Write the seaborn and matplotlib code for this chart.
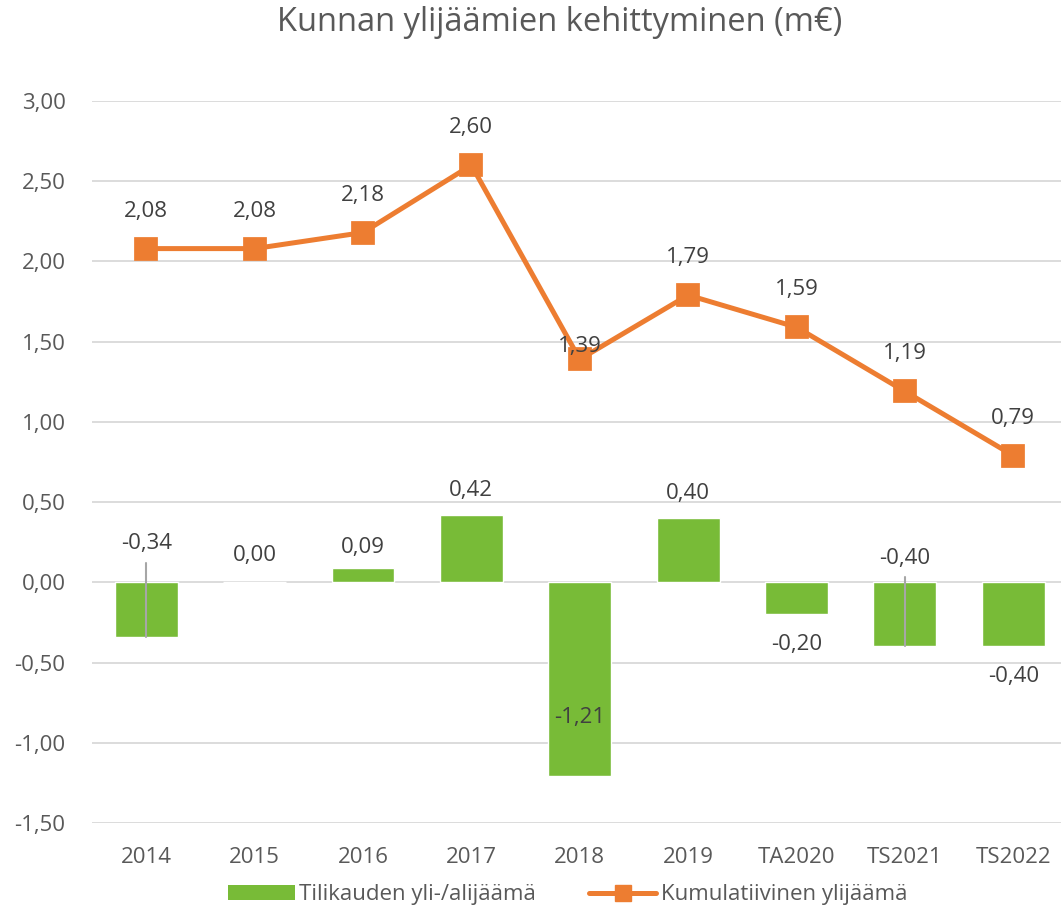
import numpy as np
import pandas as pd
import matplotlib
matplotlib.use('Agg')
import matplotlib.pyplot as plt
import seaborn as sns
from matplotlib.patches import Patch
from matplotlib.lines import Line2D

sns.set_style('white')
plt.rcParams['font.family'] = ['Open Sans', 'DejaVu Sans']

# data
vuodet = ['2014', '2015', '2016', '2017', '2018', '2019', 'TA2020', 'TS2021', 'TS2022']
tilikausi = [-0.34, 0.00, 0.09, 0.42, -1.21, 0.40, -0.20, -0.40, -0.40]
kumulatiivinen = [2.08, 2.08, 2.18, 2.60, 1.39, 1.79, 1.59, 1.19, 0.79]

green = '#78BB37'
orange = '#ED7D31'
txt = '#595959'
lbl = '#404040'

df = pd.DataFrame({'vuosi': vuodet, 'tilikausi': tilikausi, 'kumul': kumulatiivinen})

fig = plt.figure(figsize=(10.61, 9.14), dpi=100)
ax = fig.add_axes([0.0867, 0.0996, 0.9133, 0.7899])

sns.barplot(data=df, x='vuosi', y='tilikausi', color=green, width=0.58,
            saturation=1, ax=ax, zorder=2)
sns.pointplot(data=df, x='vuosi', y='kumul', color=orange, markers='s',
              linestyles='-', errorbar=None, markersize=15, linewidth=3.6,
              ax=ax, zorder=4)

ax.set_ylim(-1.5, 3.0)
ax.set_xlim(-0.5, 8.44)
ax.set_yticks(np.arange(-1.5, 3.01, 0.5))
ax.set_yticklabels([f'{v:.2f}'.replace('.', ',') for v in np.arange(-1.5, 3.01, 0.5)])
ax.yaxis.grid(True, color='#D9D9D9', linewidth=1.3, zorder=0)
ax.set_axisbelow(True)
for s in ax.spines.values():
    s.set_visible(False)
ax.tick_params(axis='both', length=0, labelsize=16, labelcolor=txt)
ax.tick_params(axis='x', pad=17)
ax.tick_params(axis='y', pad=19)
ax.set_xlabel('')
ax.set_ylabel('')

fmt = lambda v: f'{v:.2f}'.replace('.', ',')

# kumulatiivisen viivan arvot
for i, v in enumerate(kumulatiivinen):
    dy = 9 if i == 4 else 27
    ax.annotate(fmt(v), (i, v), xytext=(0, dy), textcoords='offset points',
                ha='center', va='center', fontsize=16, color=lbl, zorder=10)

# pylväiden arvot (osa siirretty kuten alkuperäisessä)
bar_off = {0: 0.58, 1: 0.17, 2: 0.13, 3: 0.155, 4: 0.37, 5: 0.155, 6: -0.19, 7: 0.55, 8: -0.19}
for i, v in enumerate(tilikausi):
    y = v + bar_off[i]
    ax.text(i, y, fmt(v), ha='center', va='center', fontsize=16, color=lbl, zorder=10)
    if i in (0, 7):
        ax.plot([i, i], [y - 0.12, v], color='#A6A6A6', linewidth=1.5, zorder=3)

fig.suptitle('Kunnan ylijäämien kehittyminen (m€)', x=0.527, y=0.993,
             fontsize=23.5, color=txt)

handles = [Patch(facecolor=green, edgecolor='none'),
           Line2D([0], [0], color=orange, linewidth=3.6, marker='s', markersize=11)]
fig.legend(handles, ['Tilikauden yli-/alijäämä', 'Kumulatiivinen ylijäämä'],
           loc='center', bbox_to_anchor=(0.535, 0.021), ncol=2, frameon=False,
           fontsize=16, labelcolor=txt, handlelength=3.0, handletextpad=0.2,
           columnspacing=2.4)

fig.savefig('out.png', dpi=100)
